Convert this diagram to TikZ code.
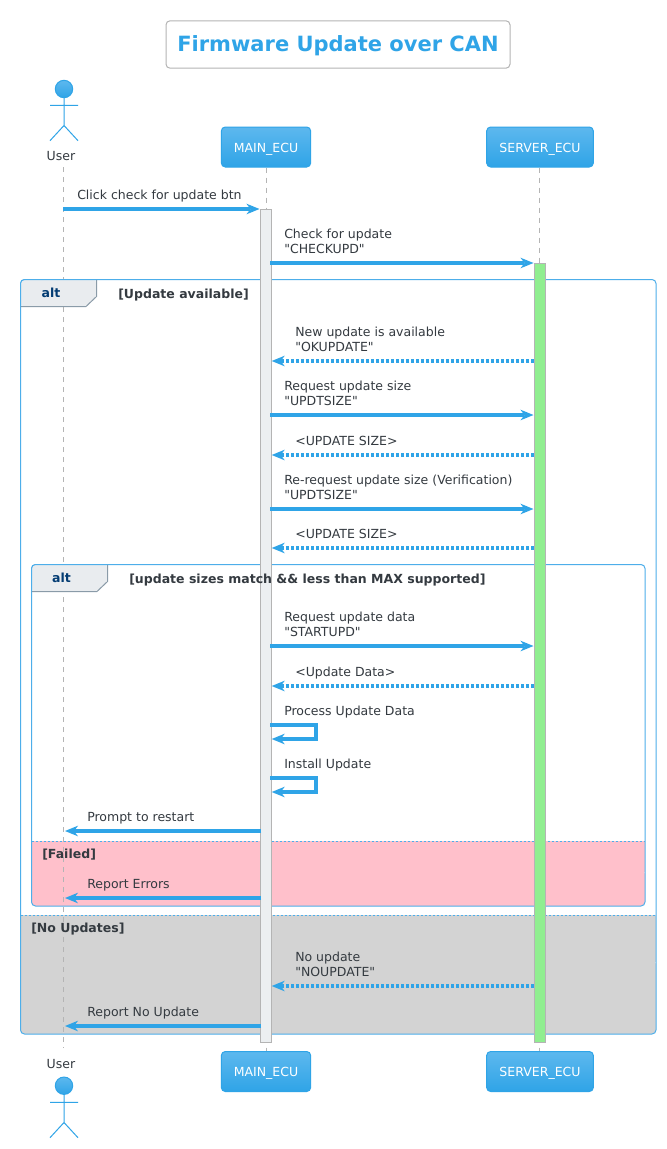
\documentclass[tikz,border=0pt]{standalone}
\usepackage{fontspec}
\setmainfont{DejaVu Sans}[Ligatures=TeXOff]
\usetikzlibrary{arrows.meta}
\definecolor{blu}{HTML}{2FA4E7}
\definecolor{blutop}{HTML}{5DB8EE}
\definecolor{frm}{HTML}{4DAEEA}
\definecolor{txt}{HTML}{343A40}
\definecolor{grayb}{HTML}{B4B4B4}
\definecolor{tabf}{HTML}{E9ECEF}
\definecolor{tabe}{HTML}{8A9BA8}
\definecolor{altc}{HTML}{033C73}
\definecolor{actm}{HTML}{ECEFF1}
\definecolor{pinkf}{HTML}{FFC0CB}
\definecolor{grayf}{HTML}{D3D3D3}
\definecolor{greenf}{HTML}{90EE90}
\newcommand\msgline[5]{\coordinate (#1s) at (#2,#4); \coordinate (#1e) at (#3,#4); \draw[#5] (#1s) -- (#1e);}
\newcommand\selfline[4]{\coordinate (#1a) at (#2,#3); \coordinate (#1b) at (316,#3); \coordinate (#1c) at (316,#4); \coordinate (#1d) at (271.7,#4); \draw[sync] (#1a) -- (#1b) -- (#1c) -- (#1d);}
\tikzset{
  x=0.75pt,y=-0.75pt,
  sync/.style={draw=blu,line width=2.5pt,-{Stealth[length=9.8pt,width=8pt,inset=3pt,line width=0pt]}},
  reply/.style={draw=blu,line width=2.5pt,dash pattern=on 2.25pt off 1.5pt,-{Stealth[length=9.8pt,width=8pt,inset=3pt,line width=0pt]}},
  msg/.style={anchor=base west,inner sep=0pt,text=txt,font=\fontsize{9.38pt}{11.25pt}\selectfont},
  part/.style={draw=blu,line width=0.75pt,rounded corners=3pt,top color=blutop,bottom color=blu,text=white,minimum height=30pt,inner sep=0pt,text height=8.5pt,text depth=1pt,font=\fontsize{9.38pt}{11pt}\selectfont},
  life/.style={draw=grayb,line width=0.75pt,dash pattern=on 3.75pt off 3.75pt},
  act/.style={draw=grayb,line width=0.75pt},
  frame/.style={draw=frm,line width=0.75pt,rounded corners=3pt},
  tabfill/.style={fill=tabf},
  tabedge/.style={draw=tabe,line width=0.75pt},
  sep/.style={draw=frm,line width=0.6pt,dash pattern=on 1.5pt off 1.5pt},
  altl/.style={anchor=base,inner sep=0pt,text=altc,font=\bfseries\fontsize{9.38pt}{11pt}\selectfont},
  guard/.style={anchor=base west,inner sep=0pt,text=txt,font=\bfseries\fontsize{9.38pt}{11pt}\selectfont},
  actor/.style={draw=blu,line width=0.75pt},
  head/.style={draw=blu,line width=0.75pt,top color=blutop,bottom color=blu},
  ulabel/.style={anchor=base,inner sep=0pt,text=txt,font=\fontsize{9.38pt}{11pt}\selectfont},
}
\begin{document}
\begin{tikzpicture}
\useasboundingbox (0,0) rectangle (667,1149);
\fill[white] (0,0) rectangle (667,1149);
% title
\node[draw=grayb,line width=0.75pt,rounded corners=3pt,minimum width=258pt,minimum height=35.5pt,inner sep=0pt,text=blu,text height=12pt,text depth=1.2pt,font=\bfseries\fontsize{15.75pt}{18pt}\selectfont] (title) at (338,44.5) {Firmware Update over CAN};
% frames
\fill[grayf,rounded corners=3pt] (20.5,960) -- (20.5,1034) -- (656,1034) -- (656,960) -- cycle;
\fill[grayf] (20.5,915) rectangle (656,962);
\fill[pinkf,rounded corners=3pt] (31.5,870) -- (31.5,906) -- (645,906) -- (645,870) -- cycle;
\fill[pinkf] (31.5,841) rectangle (645,872);
\draw[frame] (20.5,279.5) rectangle (656,1034);
\draw[frame] (31.5,564.5) rectangle (645,906);
\draw[sep] (20.5,915) -- (656,915);
\draw[sep] (31.5,841) -- (645,841);
% participants
\node[part,minimum width=67pt] (mt) at (266,147) {MAIN\_ECU};
\node[part,minimum width=80pt] (st) at (540,147) {SERVER\_ECU};
\node[part,minimum width=67pt] (mb) at (266,1071.5) {MAIN\_ECU};
\node[part,minimum width=80pt] (sb) at (540,1071.5) {SERVER\_ECU};
\node[ulabel] (ut) at (61,160) {User};
\node[ulabel] (ub) at (61,1068.7) {User};
% lifelines
\coordinate (ul1) at (63.4,167); \coordinate (ul2) at (63.4,1048);
\draw[life] (ul1) -- (ul2);
\draw[life] ([xshift=0.2pt]mt.south) -- ([xshift=0.2pt]mb.north);
\draw[life] ([xshift=-0.5pt]st.south) -- ([xshift=-0.5pt]sb.north);
% alt tabs
\fill[tabfill,rounded corners=3pt] (20.5,306.5) -- (20.5,279.5) -- (96.5,279.5) -- (96.5,296.5) -- (86,306.5) -- cycle;
\draw[tabedge] (96.5,279.5) -- (96.5,296.5) -- (86,306.5) -- (20.5,306.5);
\draw[frame] (20.5,306.5) -- (20.5,279.5) -- (96.5,279.5);
\fill[tabfill,rounded corners=3pt] (31.5,591.5) -- (31.5,564.5) -- (107.5,564.5) -- (107.5,581.5) -- (97,591.5) -- cycle;
\draw[tabedge] (107.5,564.5) -- (107.5,581.5) -- (97,591.5) -- (31.5,591.5);
\draw[frame] (31.5,591.5) -- (31.5,564.5) -- (107.5,564.5);
\node[altl] (alt1) at (51,297.5) {alt};
\node[altl] (alt2) at (61.5,582.5) {alt};
% activations
\draw[act,fill=actm] (260.5,209.5) rectangle (271.5,1042.5);
\draw[act,fill=greenf] (534.5,263.5) rectangle (545.5,1042.5);
% actors
\shade[head] (64,89) circle (8.7);
\draw[actor] (64,97.7) -- (64,125.5) (50,105.3) -- (78,105.3) (50,140.7) -- (64,125.5) -- (78,140.7);
\shade[head] (64,1085.7) circle (8.7);
\draw[actor] (64,1094.4) -- (64,1122.5) (50,1102.3) -- (78,1102.3) (50,1137.7) -- (64,1122.5) -- (78,1137.7);
% messages
\msgline{a}{63}{259.5}{209}{sync}
\node[msg] (ta) at (77,199.5) {Click check for update btn};
\msgline{b}{270}{533.5}{263}{sync}
\node[msg] (tb1) at (284,238.5) {Check for update};
\node[msg] (tb2) at (284,253.5) {"CHECKUPD"};
\msgline{c}{534}{271.7}{361}{reply}
\node[msg] (tc1) at (295,336.5) {New update is available};
\node[msg] (tc2) at (295,351.5) {"OKUPDATE"};
\msgline{d}{270}{533.5}{415}{sync}
\node[msg] (td1) at (284,390.5) {Request update size};
\node[msg] (td2) at (284,405.5) {"UPDTSIZE"};
\msgline{e}{534}{271.7}{455}{reply}
\node[msg] (te) at (295,445.5) {<UPDATE SIZE>};
\msgline{f}{270}{533.5}{509}{sync}
\node[msg] (tf1) at (284,484.5) {Re-request update size (Verification)};
\node[msg] (tf2) at (284,499.5) {"UPDTSIZE"};
\msgline{g}{534}{271.7}{548}{reply}
\node[msg] (tg) at (295,538.5) {<UPDATE SIZE>};
\msgline{h}{270}{533.5}{646}{sync}
\node[msg] (th1) at (284,621.5) {Request update data};
\node[msg] (th2) at (284,636.5) {"STARTUPD"};
\msgline{i}{534}{271.7}{686}{reply}
\node[msg] (ti) at (295,676.5) {<Update Data>};
\selfline{j}{270}{725}{739}
\node[msg] (tj) at (284,715.5) {Process Update Data};
\selfline{k}{270}{778}{792}
\node[msg] (tk) at (284,768.5) {Install Update};
\msgline{l}{261}{65}{831}{sync}
\node[msg] (tl) at (87,821.5) {Prompt to restart};
\msgline{m}{261}{65}{898}{sync}
\node[msg] (tm) at (87,888.5) {Report Errors};
\msgline{n}{534}{271.7}{986}{reply}
\node[msg] (tn1) at (295,961.5) {No update};
\node[msg] (tn2) at (295,976.5) {"NOUPDATE"};
\msgline{o}{261}{65}{1026}{sync}
\node[msg] (to) at (87,1016.5) {Report No Update};
% guards
\node[guard] (g1) at (118,298) {[Update available]};
\node[guard] (g2) at (129,583) {[update sizes match \&\& less than MAX supported]};
\node[guard] (g3) at (42,858) {[Failed]};
\node[guard] (g4) at (31,932) {[No Updates]};
\end{tikzpicture}
\end{document}
